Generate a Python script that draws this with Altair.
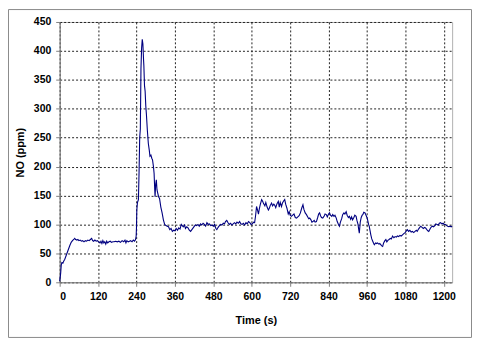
import altair as alt
import pandas as pd

time_s = [0, 3, 5, 7, 10, 13, 16, 20, 24, 28, 32, 36, 40, 44, 47, 50, 54, 57, 60, 64, 68, 72, 76, 80, 84, 88, 92, 96, 100,
          103, 106, 110, 114, 118, 122, 126, 129, 132, 135, 138, 141, 144, 147, 150, 154, 158, 162, 166, 170, 175, 180,
          185, 190, 195, 200, 204, 207, 210, 214, 218, 222, 226, 230, 234, 237, 239, 240, 241, 243, 246, 248, 250, 252,
          254, 256, 258, 260, 262, 263, 265, 267, 269, 271, 274, 277, 280, 282, 285, 288, 290, 293, 295, 297, 298, 300,
          302, 304, 306, 309, 312, 316, 320, 324, 328, 332, 336, 340, 344, 348, 352, 356, 360, 364, 368, 372, 376, 380,
          383, 386, 390, 393, 397, 401, 405, 409, 413, 417, 421, 424, 428, 432, 436, 440, 444, 448, 452, 456, 460, 464,
          468, 472, 476, 480, 484, 488, 491, 495, 499, 503, 507, 511, 515, 518, 522, 526, 530, 534, 538, 542, 546, 550,
          554, 558, 562, 566, 570, 574, 578, 582, 586, 590, 594, 598, 602, 606, 609, 612, 615, 618, 621, 624, 627, 631,
          634, 637, 641, 644, 648, 652, 655, 658, 662, 665, 669, 672, 675, 679, 683, 686, 689, 693, 696, 700, 703, 706,
          710, 714, 717, 720, 724, 728, 732, 736, 740, 744, 748, 752, 756, 760, 763, 767, 771, 775, 778, 781, 785, 788,
          791, 795, 798, 802, 806, 809, 812, 815, 818, 822, 826, 829, 833, 836, 840, 843, 846, 850, 853, 857, 860, 864,
          867, 871, 874, 877, 881, 884, 888, 891, 895, 898, 902, 905, 909, 912, 915, 919, 922, 926, 929, 932, 934, 936,
          939, 942, 945, 947, 950, 954, 957, 960, 962, 965, 967, 970, 972, 975, 978, 981, 983, 987, 990, 993, 997, 1000,
          1003, 1006, 1009, 1012, 1016, 1019, 1022, 1026, 1029, 1033, 1036, 1040, 1044, 1048, 1052, 1055, 1059, 1063,
          1067, 1071, 1075, 1079, 1083, 1086, 1090, 1094, 1098, 1102, 1106, 1110, 1114, 1117, 1121, 1125, 1128, 1132,
          1136, 1140, 1143, 1147, 1150, 1153, 1157, 1160, 1164, 1168, 1172, 1175, 1179, 1183, 1186, 1190, 1194, 1198,
          1201, 1205, 1209, 1212, 1216, 1220, 1223, 1226]

no_ppm = [2, 15, 30, 34, 33, 37, 40, 46, 52, 58, 64, 69, 72, 74, 76, 74, 73, 74, 72, 73, 71, 72, 70, 72, 71, 73, 72, 74, 76,
          72, 71, 73, 71, 72, 70, 68, 71, 67, 72, 68, 70, 66, 71, 68, 70, 71, 69, 70, 70, 71, 70,
          71, 69, 72, 70, 73, 68, 72, 70, 71, 72, 70, 73, 71, 74, 80, 95, 125, 138, 143, 190, 250, 265,
          370, 405, 420, 412, 385, 375, 340, 330, 305, 290, 262, 240, 228, 218, 220, 214, 212, 200, 188, 160, 148, 170,
          177, 160, 155, 148, 145, 130, 120, 108, 100, 98, 97, 96, 91, 93, 88, 90, 89, 93, 90, 94, 92, 100,
          98, 96, 99, 93, 96, 94, 90, 88, 91, 94, 97, 99, 98, 100, 97, 101, 99, 102, 100, 97, 103, 100,
          101, 98, 99, 97, 100, 93, 91, 95, 98, 100, 99, 102, 101, 105, 107, 103, 100, 102, 99, 101, 103, 101,
          104, 102, 105, 101, 100, 102, 99, 103, 101, 105, 103, 100, 101, 104, 103, 115, 131, 125, 118, 128, 135, 143,
          140, 136, 132, 138, 130, 125, 128, 133, 137, 132, 135, 133, 129, 136, 140, 130, 138, 131, 137, 141, 143, 135,
          128, 118, 122, 116, 114, 116, 118, 112, 111, 113, 115, 120, 128, 134, 126, 120, 117, 113, 110, 111, 108, 104,
          105, 107, 104, 105, 112, 118, 120, 115, 112, 111, 114, 118, 117, 113, 118, 120, 116, 114, 117, 114, 116, 111,
          105, 100, 97, 104, 110, 117, 120, 118, 122, 116, 112, 114, 109, 113, 108, 112, 116, 114, 106, 100, 92, 85,
          104, 112, 116, 117, 121, 120, 116, 112, 108, 100, 97, 88, 82, 75, 71, 67, 65, 68, 67, 68, 66, 67,
          65, 63, 62, 68, 72, 74, 70, 73, 74, 76, 75, 80, 77, 79, 78, 80, 79, 81,
          80, 82, 84, 86, 89, 91, 88, 90, 87, 88, 86, 88, 90, 88, 92, 95, 97, 95,
          93, 95, 94, 91, 89, 88, 92, 95, 97, 96, 98, 101, 100, 99, 102, 103, 101, 102,
          100, 100, 98, 97, 96, 97, 96, 97]

x_ticks = list(range(0, 1201, 120))
y_ticks = list(range(0, 451, 50))
x_domain = [0, 1226]
y_domain = [0, 450]

df = pd.DataFrame({"t": time_s, "v": no_ppm})

PW, PH = 395, 262
PAD = {"left": 52, "top": 13, "right": 20, "bottom": 56}

font = "Liberation Sans"

line = alt.Chart(df).mark_line(color="#000080", strokeWidth=1.1).encode(
    x=alt.X("t:Q",
            scale=alt.Scale(domain=x_domain, nice=False, zero=False),
            axis=alt.Axis(values=x_ticks, format="d", title="Time (s)", grid=True,
                          gridColor="#222", gridDash=[2, 2], gridWidth=1,
                          domainColor="#808080", tickColor="#808080", tickSize=4,
                          labelPadding=5, labelFont=font, labelFontSize=10.5,
                          labelFontWeight="bold", labelColor="#000",
                          titleFont=font, titleFontSize=11, titleFontWeight="bold",
                          titleColor="#000", titleY=38, titleBaseline="middle")),
    y=alt.Y("v:Q",
            scale=alt.Scale(domain=y_domain, nice=False),
            axis=alt.Axis(values=y_ticks, format="d", title="NO (ppm)", grid=True,
                          gridColor="#222", gridDash=[2, 2], gridWidth=1,
                          domainColor="#808080", tickColor="#808080", tickSize=4,
                          labelPadding=5, labelFont=font, labelFontSize=10.5,
                          labelFontWeight="bold", labelColor="#000",
                          titleFont=font, titleFontSize=11, titleFontWeight="bold",
                          titleColor="#000", titleX=-39, titleY=PH / 2,
                          titleAngle=270, titleAlign="center", titleBaseline="middle")),
)

border = alt.Chart(pd.DataFrame({"a": [0]})).mark_rect(
    fillOpacity=0, stroke="#8a8a8a", strokeWidth=1
).encode(
    x=alt.value(-PAD["left"] + 0.5),
    x2=alt.value(PW + PAD["right"] - 0.5),
    y=alt.value(-PAD["top"] + 0.5),
    y2=alt.value(PH + PAD["bottom"] - 0.5),
)

chart = alt.layer(line, border).properties(
    width=PW, height=PH,
    padding=PAD,
    autosize=alt.AutoSizeParams(type="none"),
    background="white",
).configure_view(stroke="#b0b0b0", strokeWidth=1)

chart.save("out.html", embed_options={"renderer": "svg", "actions": False})
